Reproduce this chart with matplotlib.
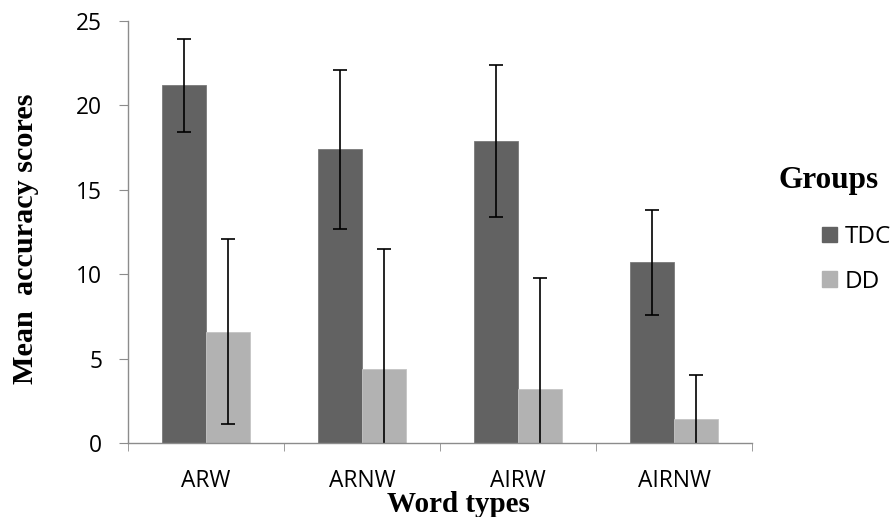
import numpy as np
import matplotlib
matplotlib.use("Agg")
import matplotlib.pyplot as plt
from matplotlib.patches import Patch

categories = ["ARW", "ARNW", "AIRW", "AIRNW"]
groups = ["TDC", "DD"]
tdc_mean = [21.2, 17.4, 17.9, 10.7]
tdc_err = [2.75, 4.7, 4.5, 3.1]
dd_mean = [6.6, 4.4, 3.2, 1.4]
dd_err = [5.5, 7.1, 6.6, 2.6]

dark = "#626262"
light = "#b2b2b2"
axis_grey = "#8c8c8c"
W, H = 890, 517

fig = plt.figure(figsize=(W / 100, H / 100), dpi=100)
ax = fig.add_axes([128 / W, 74 / H, 624 / W, 422 / H])

x = np.arange(len(categories))
w = 0.285
ax.bar(x - w / 2, tdc_mean, w, color=dark, edgecolor="#7a7a7a", linewidth=0.6)
ax.bar(x + w / 2, dd_mean, w, color=light, edgecolor="#c4c4c4", linewidth=0.6)
ax.errorbar(x - w / 2, tdc_mean, yerr=tdc_err, fmt="none", ecolor="black",
            elinewidth=1.2, capsize=5, capthick=1.2)
ax.errorbar(x + w / 2, dd_mean, yerr=dd_err, fmt="none", ecolor="black",
            elinewidth=1.2, capsize=5, capthick=1.2)

ax.set_xlim(-0.5, len(categories) - 0.5)
ax.set_ylim(0, 25)
ax.set_yticks([0, 5, 10, 15, 20, 25])

ax.set_xticks(x)
ax.set_xticklabels(categories)
ax.set_xticks(np.arange(-0.5, len(categories)), minor=True)
ax.tick_params(axis="x", which="major", length=0, pad=19)
ax.tick_params(axis="x", which="minor", length=6, color=axis_grey, direction="out")
ax.tick_params(axis="y", length=6.5, color=axis_grey, pad=12)
for lab in ax.get_xticklabels() + ax.get_yticklabels():
    lab.set_fontfamily("Open Sans")
    lab.set_fontsize(16.4)

for s in ["top", "right"]:
    ax.spines[s].set_visible(False)
for s in ["left", "bottom"]:
    ax.spines[s].set_color(axis_grey)
    ax.spines[s].set_linewidth(1.0)

serif_bold = dict(fontfamily="Liberation Serif", fontweight="bold")
fig.text(458 / W, 1 - 512 / H, "Word types", fontsize=21, ha="center",
         va="baseline", **serif_bold)
fig.text(26 / W, 1 - 239 / H, "Mean  accuracy scores", fontsize=21.8,
         rotation=90, ha="center", va="center", **serif_bold)
fig.text(778 / W, 1 - 188 / H, "Groups", fontsize=22.5, ha="left",
         va="baseline", **serif_bold)

handles = [Patch(color=dark), Patch(color=light)]
fig.legend(handles, groups, loc="center left",
           bbox_to_anchor=(822 / W, 1 - 259.5 / H), frameon=False,
           borderpad=0, borderaxespad=0,
           handlelength=0.62, handleheight=0.62, handletextpad=0.3,
           labelspacing=0.85, prop={"family": "Open Sans", "size": 17.5})

fig.savefig("out.png", dpi=100)
